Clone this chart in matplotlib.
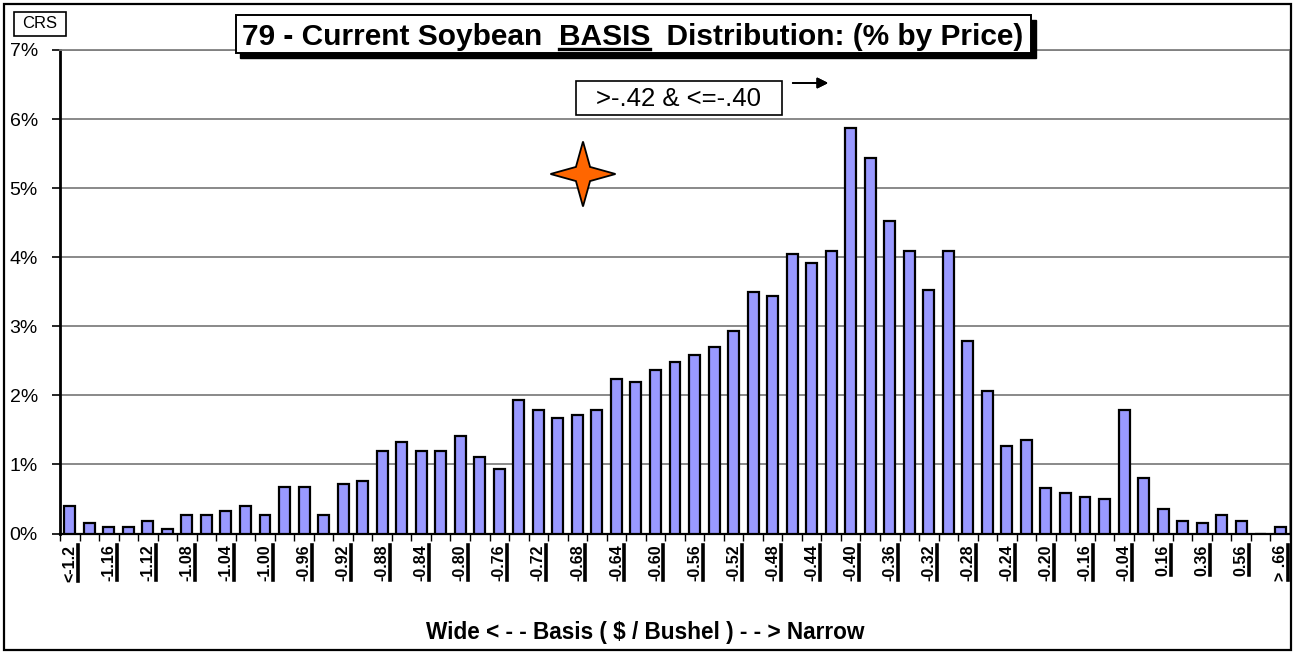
import matplotlib
matplotlib.use("Agg")
import matplotlib.pyplot as plt
import numpy as np
from matplotlib.patches import Rectangle, Polygon
from matplotlib.lines import Line2D

plt.rcParams['font.family'] = ['Liberation Sans', 'DejaVu Sans']

# share of prices falling in each basis bucket (%), widest basis first
basis_pct = [0.40, 0.15, 0.10, 0.10, 0.18, 0.06, 0.27, 0.27, 0.32, 0.40,
             0.27, 0.67, 0.67, 0.27, 0.72, 0.76, 1.19, 1.33, 1.19, 1.19,
             1.41, 1.11, 0.93, 1.93, 1.79, 1.67, 1.71, 1.79, 2.24, 2.19,
             2.36, 2.49, 2.58, 2.70, 2.93, 3.49, 3.44, 4.04, 3.92, 4.09,
             5.87, 5.44, 4.53, 4.09, 3.53, 4.09, 2.79, 2.06, 1.27, 1.36,
             0.66, 0.58, 0.53, 0.50, 1.79, 0.81, 0.36, 0.18, 0.15, 0.27,
             0.18, 0.00, 0.10]

# labels shown under every other bucket
tick_labels = ['<-1.2', '-1.16', '-1.12', '-1.08', '-1.04', '-1.00', '-0.96',
               '-0.92', '-0.88', '-0.84', '-0.80', '-0.76', '-0.72', '-0.68',
               '-0.64', '-0.60', '-0.56', '-0.52', '-0.48', '-0.44', '-0.40',
               '-0.36', '-0.32', '-0.28', '-0.24', '-0.20', '-0.16', '-0.04',
               '0.16', '0.36', '0.56', '> .66']

y_ticks = [0, 1, 2, 3, 4, 5, 6, 7]

W, H = 1294, 652
fig = plt.figure(figsize=(W / 100, H / 100), dpi=100)


def fx(px):
    return px / W


def fy(py):
    return 1 - py / H


ax = fig.add_axes([fx(60), fy(533.5), fx(1290) - fx(60), fy(50) - fy(533.5)])

n = len(basis_pct)
x = np.arange(n)
ax.bar(x, basis_pct, width=0.56, color='#9999FF', edgecolor='black',
       linewidth=1.6, zorder=3)

ax.set_xlim(-0.5, n - 0.5)
ax.set_ylim(0, 7)

ax.set_yticks(y_ticks)
ax.set_yticklabels([f'{v}%' for v in y_ticks], fontsize=14)
ax.tick_params(axis='y', length=6, width=1.2, pad=10, direction='out')
ax.yaxis.grid(True, color='#808080', linewidth=1.3, zorder=0)

ax.set_xticks(x[::2])
ax.set_xticklabels(tick_labels, rotation=90, fontsize=11.5, fontweight='bold')
ax.tick_params(axis='x', which='major', length=0, pad=8)
ax.set_xticks(np.arange(n + 1) - 0.5, minor=True)
ax.tick_params(axis='x', which='minor', length=5, width=1.0, direction='out')

for side in ['top', 'right']:
    ax.spines[side].set_color('#808080')
    ax.spines[side].set_linewidth(1.3)
ax.spines['left'].set_linewidth(2)
ax.spines['bottom'].set_linewidth(1.6)

# outer frame around the whole chart
fig.add_artist(Rectangle((fx(4), fy(650)), fx(1291) - fx(4), fy(4) - fy(650),
                         fill=False, edgecolor='black', linewidth=1.6,
                         transform=fig.transFigure))

# CRS tag
fig.add_artist(Rectangle((fx(14), fy(36)), fx(66) - fx(14), fy(12) - fy(36),
                         facecolor='white', edgecolor='black', linewidth=1.2,
                         transform=fig.transFigure))
fig.text(fx(40), fy(24), 'CRS', fontsize=12, ha='center', va='center')

# title box with drop shadow
fig.add_artist(Rectangle((fx(240), fy(58)), fx(1036) - fx(240), fy(20) - fy(58),
                         facecolor='black', edgecolor='black',
                         transform=fig.transFigure, zorder=4))
fig.add_artist(Rectangle((fx(236), fy(53)), fx(1031) - fx(236), fy(15) - fy(53),
                         facecolor='white', edgecolor='black', linewidth=1.4,
                         transform=fig.transFigure, zorder=5))
title_kw = dict(fontsize=21.5, fontweight='bold', zorder=6)
t1 = fig.text(fx(242), fy(45), '79 - Current Soybean  ', **title_kw)
t2 = fig.text(0, 0, 'BASIS', **title_kw)
t3 = fig.text(0, 0, '  Distribution: (% by Price)', **title_kw)

# range annotation with arrow
fig.add_artist(Rectangle((fx(576), fy(115)), fx(782) - fx(576), fy(81) - fy(115),
                         facecolor='white', edgecolor='black', linewidth=1.2,
                         transform=fig.transFigure, zorder=5))
fig.text(fx(679), fy(99), '>-.42 & <=-.40', fontsize=18.5, ha='center',
         va='center', zorder=6)
fig.add_artist(plt.annotate('', xy=(fx(831), fy(83)), xytext=(fx(790), fy(83)),
                            xycoords='figure fraction',
                            arrowprops=dict(arrowstyle='-|>', color='black',
                                            lw=1.3, mutation_scale=16)))

# orange four-point star
cx, cy, R, r = 583, 174, 32.5, 10
ang = np.arange(8) * np.pi / 4
rad = np.where(np.arange(8) % 2 == 0, R, r)
star = [(fx(cx + q * np.cos(a)), fy(cy - q * np.sin(a))) for q, a in zip(rad, ang)]
fig.add_artist(Polygon(star, closed=True, facecolor='#FF6600', edgecolor='black',
                       linewidth=1.3, transform=fig.transFigure, zorder=6))

fig.text(fx(645), fy(633), 'Wide < - - Basis ( $ / Bushel ) - - > Narrow',
         fontsize=16.3, fontweight='bold', ha='center', va='center')

# lay out the title pieces and draw underlines from rendered extents
fig.canvas.draw()
renderer = fig.canvas.get_renderer()
inv = fig.transFigure.inverted()

base_y = t1.get_position()[1]
b1 = t1.get_window_extent(renderer)
t2.set_position((inv.transform((b1.x1, 0))[0], base_y))
b2 = t2.get_window_extent(renderer)
t3.set_position((inv.transform((b2.x1, 0))[0], base_y))
fig.canvas.draw()
b2 = t2.get_window_extent(renderer)
p0 = inv.transform((b2.x0, b2.y0 + 2.5))
p1 = inv.transform((b2.x1, b2.y0 + 2.5))
fig.add_artist(Line2D([p0[0], p1[0]], [p0[1], p1[1]], color='black', lw=2.4,
                      transform=fig.transFigure, zorder=7))

for lab in ax.get_xticklabels():
    bb = lab.get_window_extent(renderer)
    q0 = inv.transform((bb.x1 + 0.5, bb.y0 + 1))
    q1 = inv.transform((bb.x1 + 0.5, bb.y1))
    fig.add_artist(Line2D([q0[0], q1[0]], [q0[1], q1[1]], color='black', lw=2.6,
                          transform=fig.transFigure))

fig.savefig('out.png', dpi=100)
